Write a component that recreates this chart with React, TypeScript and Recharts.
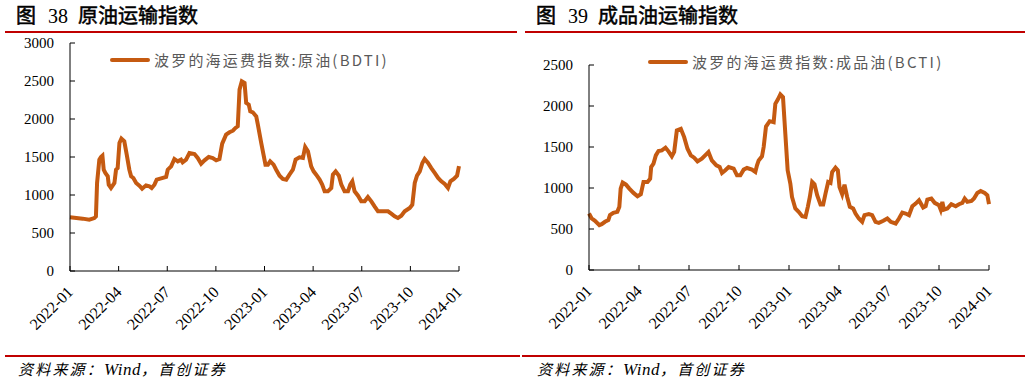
import { LineChart, Line, XAxis, YAxis, Legend } from 'recharts'

const TICK_MONTHS = [0, 3, 6, 9, 12, 15, 18, 21, 24]
const TICK_LABELS = ['2022-01', '2022-04', '2022-07', '2022-10', '2023-01', '2023-04', '2023-07', '2023-10', '2024-01']

// 原油 BDTI (months since 2022-01)
const BDTI_MONTH = [
  0, 0.78, 1.19, 1.5, 1.6, 1.67, 1.81, 1.91, 2.0, 2.08, 2.18, 2.33, 2.39, 2.53, 2.74, 2.84, 2.94, 3.05, 3.17, 3.35,
  3.5, 3.66, 3.77, 3.91, 4.08, 4.28, 4.45, 4.69, 4.9, 5.04, 5.21, 5.35, 5.62, 5.93, 6.03, 6.24, 6.44, 6.65, 6.85, 6.95,
  7.16, 7.37, 7.68, 7.88, 8.09, 8.3, 8.56, 8.81, 9.02, 9.22, 9.39, 9.63, 9.84, 10.05, 10.21, 10.35, 10.46, 10.6, 10.77, 10.87,
  11.03, 11.12, 11.28, 11.49, 11.59, 11.8, 12.06, 12.21, 12.35, 12.56, 12.72, 12.93, 13.13, 13.34, 13.54, 13.75, 13.92, 14.16, 14.37, 14.51,
  14.68, 14.88, 15.03, 15.19, 15.4, 15.56, 15.71, 15.91, 16.12, 16.22, 16.39, 16.59, 16.74, 16.94, 17.15, 17.29, 17.42, 17.56, 17.77, 17.97,
  18.18, 18.38, 18.59, 18.79, 19.0, 19.31, 19.62, 19.82, 20.03, 20.23, 20.44, 20.65, 20.96, 21.12, 21.27, 21.41, 21.58, 21.74, 21.88, 22.09,
  22.29, 22.5, 22.71, 22.91, 23.12, 23.32, 23.47, 23.68, 23.88, 24.0,
]
const BDTI_VALUE = [
  706, 689, 675, 697, 719, 1158, 1465, 1500, 1518, 1333, 1290, 1246, 1136, 1092, 1158, 1333, 1355, 1684, 1741, 1706,
  1531, 1333, 1246, 1224, 1158, 1123, 1083, 1127, 1114, 1092, 1136, 1202, 1219, 1237, 1333, 1377, 1474, 1443, 1465, 1430,
  1465, 1553, 1540, 1487, 1412, 1456, 1500, 1487, 1456, 1474, 1675, 1794, 1825, 1846, 1882, 1904, 2386, 2496, 2474, 2211,
  2189, 2101, 2088, 2035, 1925, 1684, 1399, 1399, 1443, 1399, 1333, 1254, 1211, 1202, 1268, 1333, 1465, 1496, 1487, 1632,
  1575, 1377, 1311, 1268, 1202, 1136, 1048, 1048, 1092, 1268, 1311, 1254, 1136, 1048, 1048, 1136, 1180, 1048, 991, 917,
  917, 974, 917, 851, 785, 785, 785, 754, 719, 697, 728, 785, 829, 873, 1158, 1254, 1311, 1421, 1474, 1421,
  1355, 1290, 1224, 1180, 1145, 1092, 1180, 1211, 1254, 1380,
]

// 成品油 BCTI
const BCTI_MONTH = [
  0, 0.16, 0.36, 0.62, 0.76, 0.96, 1.16, 1.26, 1.46, 1.7, 1.82, 1.9, 2.02, 2.22, 2.42, 2.67, 2.91, 3.11, 3.27, 3.51,
  3.67, 3.73, 3.87, 4.01, 4.17, 4.37, 4.59, 4.77, 4.97, 5.11, 5.27, 5.51, 5.71, 5.91, 6.11, 6.31, 6.51, 6.77, 6.97, 7.17,
  7.37, 7.64, 7.84, 7.98, 8.18, 8.38, 8.68, 8.88, 9.08, 9.28, 9.48, 9.78, 9.98, 10.08, 10.18, 10.38, 10.48, 10.62, 10.84, 11.08,
  11.18, 11.32, 11.48, 11.64, 11.78, 11.92, 12.08, 12.18, 12.38, 12.58, 12.79, 12.99, 13.13, 13.25, 13.39, 13.53, 13.69, 13.89, 14.05, 14.19,
  14.35, 14.49, 14.59, 14.79, 14.93, 15.03, 15.19, 15.33, 15.49, 15.65, 15.85, 15.99, 16.19, 16.39, 16.53, 16.79, 16.99, 17.19, 17.39, 17.66,
  17.9, 18.1, 18.4, 18.6, 18.8, 19.0, 19.2, 19.4, 19.6, 19.8, 20.05, 20.2, 20.3, 20.54, 20.74, 21.0, 21.1, 21.2, 21.3, 21.5,
  21.74, 22.0, 22.2, 22.4, 22.54, 22.7, 22.95, 23.1, 23.3, 23.5, 23.74, 23.9, 24.0,
]
const BCTI_VALUE = [
  689, 628, 600, 547, 559, 588, 608, 669, 697, 709, 770, 993, 1066, 1041, 993, 940, 900, 924, 1074, 1074,
  1114, 1256, 1297, 1398, 1451, 1459, 1491, 1447, 1386, 1439, 1702, 1722, 1621, 1479, 1398, 1370, 1325, 1357, 1398, 1439,
  1337, 1276, 1256, 1183, 1216, 1256, 1236, 1155, 1155, 1224, 1244, 1224, 1195, 1276, 1337, 1386, 1499, 1750, 1815, 1803,
  2026, 2075, 2140, 2107, 1661, 1216, 1054, 891, 750, 709, 656, 648, 770, 891, 1074, 1045, 912, 798, 798, 932,
  1074, 1062, 1195, 1248, 1216, 1013, 924, 1041, 891, 770, 750, 689, 628, 588, 669, 681, 669, 588, 575, 600,
  628, 588, 567, 628, 701, 689, 669, 778, 810, 851, 762, 778, 859, 871, 819, 790, 737, 831, 737, 750,
  802, 778, 802, 819, 871, 831, 843, 871, 940, 964, 940, 912, 802,
]

const BDTI_Y_TICKS = [0, 500, 1000, 1500, 2000, 2500, 3000]
const BCTI_Y_TICKS = [0, 500, 1000, 1500, 2000, 2500]

const bdtiData = BDTI_MONTH.map((m, i) => ({ m, v: BDTI_VALUE[i] }))
const bctiData = BCTI_MONTH.map((m, i) => ({ m, v: BCTI_VALUE[i] }))

const LINE_COLOR = '#C55A11'
const RED = '#C00000'
const SERIF = '"Liberation Serif", "Times New Roman", serif'
const CJK = '"Noto Sans CJK SC", "Noto Sans", sans-serif'

function YTick({ x, y, payload }: any) {
  return (
    <g>
      <line x1={x} x2={x + 5} y1={y} y2={y} stroke="#000" strokeWidth={1} />
      <text x={x - 16} y={y} dy={5} textAnchor="end" fontFamily={SERIF} fontSize={15} fill="#000">
        {payload.value}
      </text>
    </g>
  )
}

function XTick({ x, y, payload }: any) {
  const idx = TICK_MONTHS.indexOf(payload.value)
  const ax = x + 4
  const ay = y + 22
  return (
    <g>
      <line x1={x} x2={x} y1={y} y2={y - 5} stroke="#000" strokeWidth={1} />
      <text
        x={ax}
        y={ay}
        textAnchor="end"
        transform={`rotate(-45 ${ax} ${ay})`}
        fontFamily={SERIF}
        fontSize={16}
        fill="#000"
      >
        {TICK_LABELS[idx]}
      </text>
    </g>
  )
}

function LegendLine({ label }: { label: string }) {
  return (
    <div style={{ display: 'flex', alignItems: 'center', whiteSpace: 'nowrap' }}>
      <div style={{ width: 40, height: 4, background: LINE_COLOR, borderRadius: 2 }} />
      <span
        style={{
          marginLeft: 4,
          fontFamily: CJK,
          fontSize: 15,
          letterSpacing: 2.2,
          color: '#595959',
        }}
      >
        {label}
      </span>
    </div>
  )
}

function Title({ num, text, left }: { num: string; text: string; left: number }) {
  return (
    <div
      style={{
        position: 'absolute',
        left,
        top: 1,
        whiteSpace: 'nowrap',
        fontSize: 20,
        color: '#000',
        lineHeight: '28px',
      }}
    >
      <span style={{ fontFamily: CJK, fontWeight: 400, WebkitTextStroke: '0.5px #000' }}>图</span>
      <span style={{ fontFamily: SERIF, marginLeft: 12 }}>{num}</span>
      <span style={{ fontFamily: CJK, fontWeight: 400, WebkitTextStroke: '0.5px #000', marginLeft: 10 }}>{text}</span>
    </div>
  )
}

function Source({ left }: { left: number }) {
  return (
    <div
      style={{
        position: 'absolute',
        left,
        top: 358,
        whiteSpace: 'nowrap',
        fontSize: 15,
        fontStyle: 'italic',
        color: '#000',
        letterSpacing: 2.2,
      }}
    >
      <span style={{ fontFamily: CJK }}>资料来源：</span>
      <span style={{ fontFamily: SERIF, fontSize: 17, letterSpacing: 0.5 }}>Wind</span>
      <span style={{ fontFamily: CJK }}>，首创证券</span>
    </div>
  )
}

export default function App() {
  return (
    <div
      style={{
        position: 'absolute',
        left: 0,
        top: 0,
        width: 1032,
        height: 383,
        background: '#fff',
        overflow: 'hidden',
      }}
    >
      <Title num="38" text="原油运输指数" left={16} />
      <Title num="39" text="成品油运输指数" left={536} />

      {/* red rules */}
      <div style={{ position: 'absolute', left: 5, top: 31, width: 512, height: 2, background: RED }} />
      <div style={{ position: 'absolute', left: 525, top: 31, width: 500, height: 2, background: RED }} />
      <div style={{ position: 'absolute', left: 5, top: 355, width: 515, height: 2, background: RED }} />
      <div style={{ position: 'absolute', left: 522, top: 355, width: 503, height: 2, background: RED }} />

      <Source left={18} />
      <Source left={537} />

      <div style={{ position: 'absolute', left: 0, top: 0 }}>
        <LineChart width={520} height={350} data={bdtiData} margin={{ top: 43, right: 61, bottom: 9, left: 10 }}>
          <XAxis
            dataKey="m"
            type="number"
            domain={[0, 24]}
            ticks={TICK_MONTHS}
            interval={0}
            height={70}
            tickSize={0}
            tickMargin={0}
            tickLine={false}
            axisLine={{ stroke: '#000' }}
            tick={<XTick />}
          />
          <YAxis
            type="number"
            domain={[0, 3000]}
            ticks={BDTI_Y_TICKS}
            interval={0}
            width={60}
            tickSize={0}
            tickMargin={0}
            tickLine={false}
            axisLine={{ stroke: '#000' }}
            tick={<YTick />}
          />
          <Legend
            layout="horizontal"
            verticalAlign="middle"
            align="center"
            wrapperStyle={{ top: 49, left: 110, width: 'auto' }}
            content={() => <LegendLine label="波罗的海运费指数:原油(BDTI)" />}
          />
          <Line
            dataKey="v"
            name="波罗的海运费指数:原油(BDTI)"
            stroke={LINE_COLOR}
            strokeWidth={4}
            dot={false}
            type="linear"
            isAnimationActive={false}
          />
        </LineChart>
      </div>

      <div style={{ position: 'absolute', left: 520, top: 0 }}>
        <LineChart width={512} height={350} data={bctiData} margin={{ top: 65, right: 43, bottom: 10, left: 9 }}>
          <XAxis
            dataKey="m"
            type="number"
            domain={[0, 24]}
            ticks={TICK_MONTHS}
            interval={0}
            height={70}
            tickSize={0}
            tickMargin={0}
            tickLine={false}
            axisLine={{ stroke: '#000' }}
            tick={<XTick />}
          />
          <YAxis
            type="number"
            domain={[0, 2500]}
            ticks={BCTI_Y_TICKS}
            interval={0}
            width={60}
            tickSize={0}
            tickMargin={0}
            tickLine={false}
            axisLine={{ stroke: '#000' }}
            tick={<YTick />}
          />
          <Legend
            layout="horizontal"
            verticalAlign="middle"
            align="center"
            wrapperStyle={{ top: 51, left: 128, width: 'auto' }}
            content={() => <LegendLine label="波罗的海运费指数:成品油(BCTI)" />}
          />
          <Line
            dataKey="v"
            name="波罗的海运费指数:成品油(BCTI)"
            stroke={LINE_COLOR}
            strokeWidth={4}
            dot={false}
            type="linear"
            isAnimationActive={false}
          />
        </LineChart>
      </div>
    </div>
  )
}
